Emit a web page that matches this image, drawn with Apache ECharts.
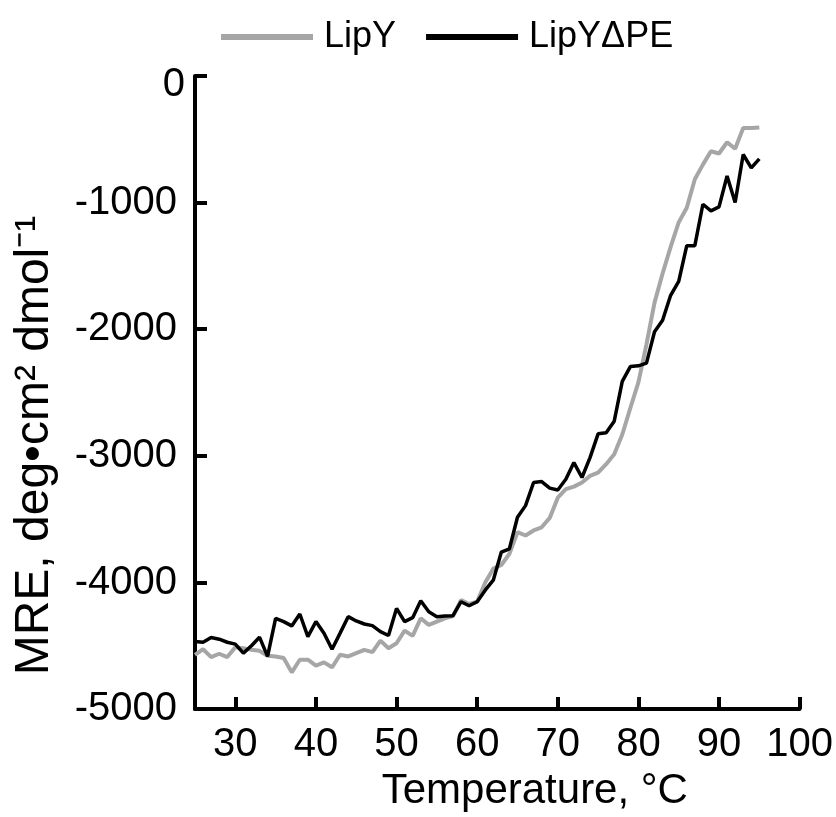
<!DOCTYPE html>
<html>
<head>
<meta charset="utf-8">
<script src="https://cdn.jsdelivr.net/npm/echarts@6/dist/echarts.min.js"></script>
<style>html,body{margin:0;padding:0;background:#fff}#c{width:836px;height:817px}</style>
</head>
<body>
<div id="c"></div>
<script>
const temps = [25,26,27,28,29,30,31,32,33,34,35,36,37,38,39,40,41,42,43,44,45,46,47,48,49,50,51,52,53,54,55,56,57,58,59,60,61,62,63,64,65,66,67,68,69,70,71,72,73,74,75,76,77,78,79,80,81,82,83,84,85,86,87,88,89,90,91,92,93,94,95];
const lipY = [-4571,-4527,-4589,-4563,-4589,-4511,-4519,-4532,-4540,-4579,-4584,-4597,-4710,-4610,-4610,-4657,-4631,-4670,-4571,-4584,-4558,-4532,-4550,-4459,-4519,-4480,-4380,-4422,-4283,-4335,-4309,-4283,-4265,-4139,-4170,-4152,-4000,-3891,-3862,-3773,-3603,-3629,-3589,-3564,-3490,-3330,-3263,-3243,-3210,-3158,-3132,-3066,-2988,-2831,-2622,-2420,-2120,-1790,-1560,-1350,-1156,-1040,-816,-700,-594,-612,-523,-575,-411,-411,-406];
const lipYdPE = [-4466,-4472,-4435,-4448,-4472,-4487,-4558,-4500,-4432,-4584,-4283,-4309,-4343,-4249,-4427,-4309,-4401,-4527,-4400,-4270,-4304,-4328,-4341,-4388,-4419,-4205,-4309,-4278,-4144,-4231,-4270,-4265,-4262,-4152,-4184,-4152,-4061,-3982,-3760,-3734,-3485,-3393,-3210,-3203,-3255,-3270,-3185,-3053,-3171,-3014,-2826,-2818,-2726,-2412,-2295,-2289,-2268,-2020,-1929,-1732,-1622,-1340,-1340,-1013,-1065,-1034,-790,-999,-620,-725,-654];
const xTicks = [30,40,50,60,70,80,90,100];
const seriesNames = ['LipY','LipY\u0394PE'];

const font = 'Liberation Sans, Arial, Helvetica, sans-serif';
const chart = echarts.init(document.getElementById('c'), null, {renderer:'canvas'});
chart.setOption({
  animation:false,
  backgroundColor:'#fff',
  legend:{
    left:216, top:14,
    itemWidth:92, itemHeight:6, itemGap:30,
    icon:'rect',
    textStyle:{fontFamily:font, fontSize:36, color:'#000', padding:[0,0,0,6]},
    data:seriesNames
  },
  grid:{left:195, right:36, top:76, bottom:105, containLabel:false},
  xAxis:{
    type:'value', min:25, max:100,
    name:'Temperature, \u00b0C', nameLocation:'middle', nameGap:59,
    nameTextStyle:{fontFamily:font, fontSize:42, color:'#000', padding:[0,0,0,75]},
    axisLine:{onZero:false, lineStyle:{color:'#000', width:4}},
    axisTick:{inside:true, length:12, lineStyle:{color:'#000', width:4}, customValues:xTicks},
    axisLabel:{fontFamily:font, fontSize:40, color:'#000', margin:16, customValues:xTicks},
    splitLine:{show:false}
  },
  yAxis:{
    type:'value', min:-5000, max:0, interval:1000,
    name:'MRE, deg\u2022cm\u00b2 dmol\u207b\u00b9', nameLocation:'middle', nameGap:136,
    nameTextStyle:{fontFamily:font, fontSize:48, color:'#000', padding:[0,106,0,0]},
    axisLine:{onZero:false, lineStyle:{color:'#000', width:4}},
    axisTick:{inside:true, length:12, lineStyle:{color:'#000', width:4}},
    axisLabel:{fontFamily:font, fontSize:40, color:'#000', margin:18,
      formatter:function(v){ return v === 0 ? '{z|0}' : String(v); },
      rich:{z:{fontFamily:font, fontSize:40, color:'#000', padding:[18,-8,0,0]}}},
    splitLine:{show:false}
  },
  series:[
    {name:seriesNames[0], type:'line', showSymbol:false, data:temps.map((t,i)=>[t,lipY[i]]),
     lineStyle:{color:'#a6a6a6', width:4}, itemStyle:{color:'#a6a6a6'}, z:2},
    {name:seriesNames[1], type:'line', showSymbol:false, data:temps.map((t,i)=>[t,lipYdPE[i]]),
     lineStyle:{color:'#000', width:3.5}, itemStyle:{color:'#000'}, z:3}
  ]
});
</script>
</body>
</html>
